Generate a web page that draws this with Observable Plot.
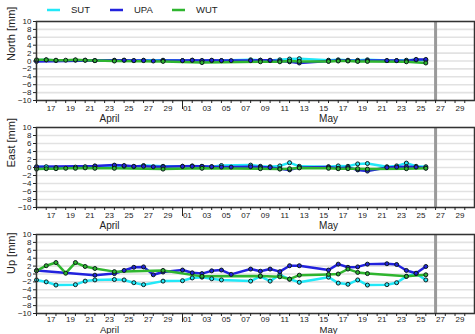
<!DOCTYPE html>
<html><head><meta charset="utf-8">
<script src="https://cdn.jsdelivr.net/npm/d3@7"></script>
<script src="https://cdn.jsdelivr.net/npm/@observablehq/plot@0.6"></script>
<style>
body{margin:0;background:#fff;font-family:"Liberation Sans",Arial,sans-serif}
#c{width:475px;height:334px;position:relative;overflow:hidden;background:#fff}
#c svg{display:block}
</style>
</head><body><div id="c"></div>
<script>
const stations = ["SUT", "UPA", "WUT"];
const colors = ["#22e8f8", "#2222dd", "#2fb52f"];
const monthLabels = ["April", "May"];
const yTicks = [10, 8, 6, 4, 2, 0, -2, -4, -6, -8, -10];

const sutDates = ["04-16","04-17","04-18","04-20","04-21","04-22","04-24","04-25","04-26","04-27","04-29",
  "05-01","05-02","05-03","05-04","05-05","05-08","05-09","05-10","05-11","05-12","05-13",
  "05-16","05-17","05-18","05-19","05-20","05-22","05-23","05-24","05-25","05-26"];
const sutNorth = [0.2,0.3,0.1,0.2,0.2,0.1,0.1,0.2,0.1,0.2,0.2, 0.1,0.2,0.1,0.1,0.1, 0.3,0.2,0.1,0.3,0.5,0.6, 0.2,0.3,0.2,0.2,0.3, 0.1,0.1,0.2,0.3,0.2];
const sutEast  = [0.1,0.2,0.0,0.1,0.2,0.3,0.4,0.3,0.2,0.5,0.3, 0.3,0.4,0.3,0.2,0.5, 0.6,0.3,0.2,0.4,1.2,0.3, 0.2,0.4,0.3,0.9,1.0, 0.2,0.4,1.1,0.3,0.2];
const sutUp    = [-1.5,-2.0,-2.8,-2.7,-1.8,-1.5,-1.4,-1.5,-2.2,-2.7,-1.8, -1.7,-1.0,-0.8,-1.2,-1.5, -1.8,-0.6,-1.8,-0.2,-1.3,-2.1, -0.8,-2.3,-2.6,-1.5,-2.8, -2.7,-2.2,-0.6,0.1,-1.5];

const upaDates = ["04-16","04-22","04-24","04-25","04-26","04-27","04-28","04-29",
  "05-01","05-02","05-03","05-04","05-05","05-06","05-08","05-09","05-10","05-11","05-12","05-13",
  "05-16","05-17","05-18","05-19","05-20","05-22","05-23","05-24","05-25","05-26"];
const upaNorth = [-0.1,0.1,0.2,0.2,0.1,0.1,0.0,0.1, 0.1,0.2,0.1,0.2,0.1,0.1,0.1,0.2,0.2,0.0,-0.2,-0.5, 0.0,0.1,0.1,0.0,0.1,0.1,0.1,0.0,0.4,0.4];
const upaEast  = [0.2,0.4,0.6,0.5,0.3,0.3,0.2,0.2, 0.3,0.3,0.3,0.2,0.1,0.1,0.2,0.1,0.0,-0.3,-0.6,0.0, 0.1,-0.2,0.0,-0.6,-0.9,0.0,0.1,0.2,0.1,-0.1];
const upaUp    = [0.9,-0.3,0.1,0.9,1.7,1.8,-0.2,0.5, 1.0,0.3,0.1,0.8,1.0,-0.1,1.25,0.7,1.25,0.6,2.1,2.1, 1.0,2.5,1.7,1.8,2.5,2.6,2.4,0.9,0.2,1.9];

const wutDates = ["04-16","04-17","04-18","04-19","04-20","04-21","04-22","04-24","04-29",
  "05-03","05-09","05-11","05-12","05-13","05-16","05-17","05-18","05-19","05-20","05-24","05-26"];
const wutNorth = [0.3,0.3,0.2,0.2,0.3,0.2,0.1,0.0,-0.1, -0.4,-0.2,-0.2,0.0,-0.1,-0.1,0.0,0.0,-0.1,-0.1,-0.2,-0.5];
const wutEast  = [-0.4,-0.3,-0.3,-0.2,-0.2,-0.1,-0.2,-0.2,-0.4, -0.2,-0.3,-0.4,-0.3,-0.1,-0.2,-0.3,-0.3,-0.3,-0.4,-0.3,-0.2];
const wutUp    = [0.8,2.1,2.9,0.2,2.9,1.9,1.4,0.6,0.9, -0.6,-0.5,-0.7,-1.3,-0.3,-0.1,0.0,1.25,0.4,0.1,-0.6,-0.2];

const D = (s, h = 0) => {
  const [m, d] = s.split("-").map(Number);
  return new Date(Date.UTC(2021, m - 1, d, h));
};
const series = [
  {station: "SUT", dates: sutDates, north: sutNorth, east: sutEast, up: sutUp},
  {station: "UPA", dates: upaDates, north: upaNorth, east: upaEast, up: upaUp},
  {station: "WUT", dates: wutDates, north: wutNorth, east: wutEast, up: wutUp}
];
const rows = series.flatMap(s => s.dates.map((d, i) => ({
  station: s.station, date: D(d), north: s.north[i], east: s.east[i], up: s.up[i]
})));

const x0 = D("04-16"), x1 = D("05-31");
const dayTicks = d3.utcDay.range(x0, x1);
const labelTicks = dayTicks.filter(d => d.getUTCDate() % 2 === 1).map(d => d3.utcHour.offset(d, 12));
const monthTicks = [D("04-23", 12), D("05-16")];
const sep = D("05-27");
const may1 = D("05-01");

const c = document.getElementById("c");

// legend
const leg = d3.create("svg").attr("width", 475).attr("height", 16);
const legX = [47, 110, 172];
stations.forEach((s, i) => {
  leg.append("line").attr("x1", legX[i]).attr("x2", legX[i] + 13).attr("y1", 10).attr("y2", 10)
    .attr("stroke", colors[i]).attr("stroke-width", 2.5);
  leg.append("text").attr("x", legX[i] + 24).attr("y", 13.3).attr("font-size", 9.5)
    .attr("font-family", "Liberation Sans, Arial, sans-serif").attr("fill", "#222").text(s);
});
c.append(leg.node());

function panel(comp, label, height, mb, dayPad, monthPad, monthSize) {
  return Plot.plot({
    width: 475, height, marginTop: 5, marginBottom: mb, marginLeft: 36, marginRight: 1,
    style: {fontFamily: "Liberation Sans, Arial, sans-serif", fontSize: "8px", background: "white", color: "#222", overflow: "visible"},
    x: {type: "utc", domain: [x0, x1]},
    y: {domain: [-10, 10]},
    color: {domain: stations, range: colors},
    marks: [
      Plot.ruleY(yTicks, {stroke: "#e2e2e2", strokeWidth: 1.6}),
      Plot.ruleX([sep], {stroke: "#9a9a9a", strokeWidth: 3}),
      Plot.line(rows, {x: "date", y: comp, z: "station", stroke: "station", strokeWidth: 2.5}),
      Plot.dot(rows, {x: "date", y: comp, fill: "station", stroke: "#0c1c1c", strokeWidth: 1, r: 2}),
      Plot.frame({stroke: "#333", strokeWidth: 1.5}),
      Plot.axisY({ticks: yTicks, tickSize: 3, tickPadding: 2, fontSize: 8, label: null}),
      Plot.axisX({ticks: dayTicks, tickSize: 3, tickFormat: () => "", label: null}),
      Plot.axisX({ticks: [may1], tickSize: 9, tickFormat: () => "", label: null}),
      Plot.axisX({ticks: labelTicks, tickSize: 0, tickPadding: dayPad, tickFormat: d3.utcFormat("%d"), fontSize: 8, label: null}),
      Plot.axisX({ticks: monthTicks, tickSize: 0, tickPadding: monthPad, tickFormat: d => monthLabels[d.getUTCMonth() - 3], fontSize: monthSize, label: null}),
      Plot.text([label], {frameAnchor: "left", text: d => d, rotate: -90, dx: -25, fontSize: 11, fill: "#222"})
    ]
  });
}

c.append(panel("north", "North [mm]", 106, 22, 5, 14, 10));
c.append(panel("east", "East [mm]", 107, 22, 5, 14, 10));
c.append(panel("up", "Up [mm]", 105, 21, 3, 12.5, 9.5));
</script>
</body></html>
